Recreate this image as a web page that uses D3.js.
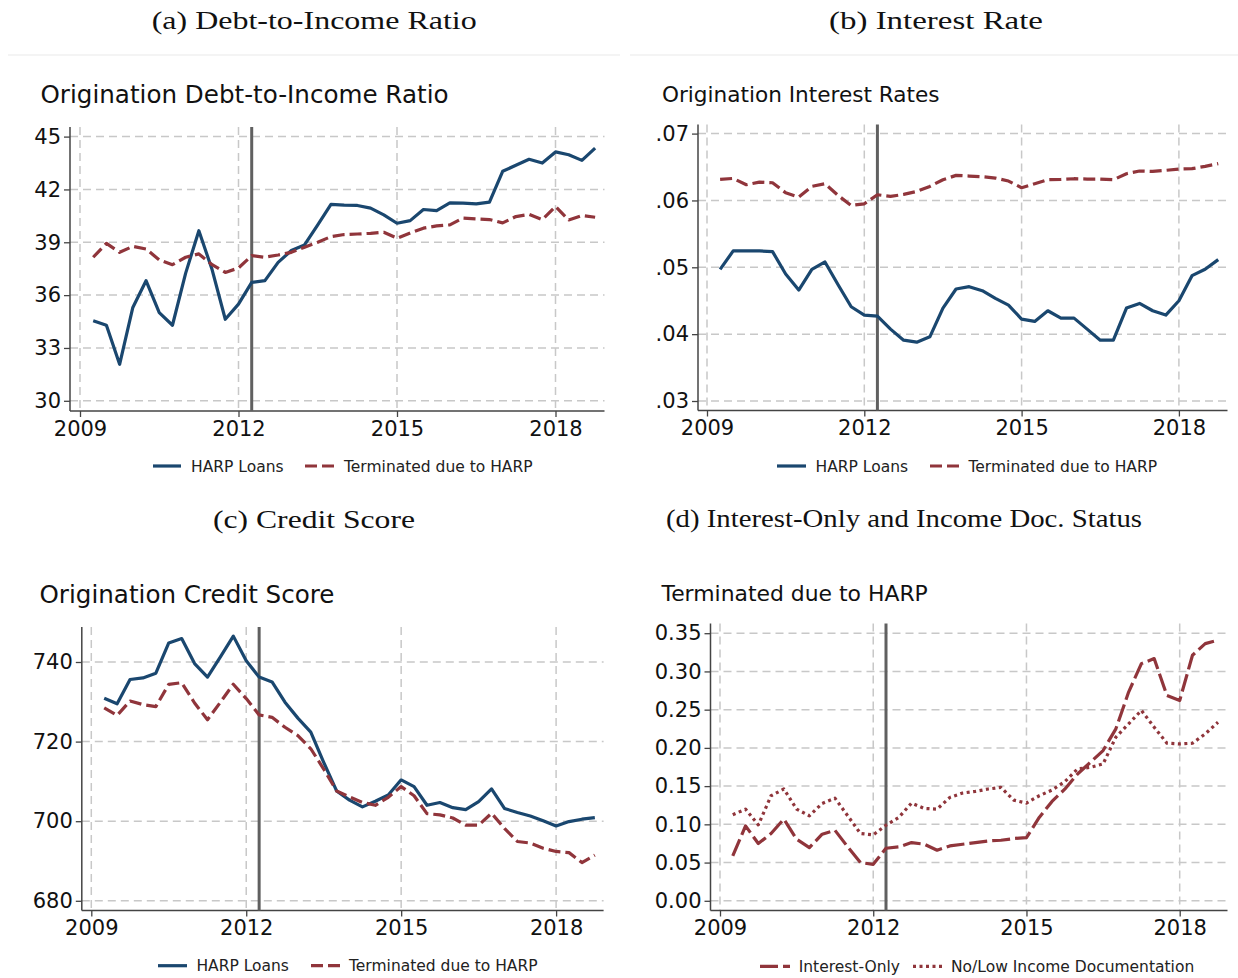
<!DOCTYPE html>
<html><head><meta charset="utf-8">
<script src="https://cdn.jsdelivr.net/npm/d3@7"></script>
<style>body{margin:0;background:#fff} svg{display:block}</style>
</head><body>
<svg id="chart" width="1238" height="978"></svg>
<script>
// ---------- data ----------
const quarters = ["2009q2","2009q3","2009q4",
  "2010q1","2010q2","2010q3","2010q4","2011q1","2011q2","2011q3","2011q4",
  "2012q1","2012q2","2012q3","2012q4","2013q1","2013q2","2013q3","2013q4",
  "2014q1","2014q2","2014q3","2014q4","2015q1","2015q2","2015q3","2015q4",
  "2016q1","2016q2","2016q3","2016q4","2017q1","2017q2","2017q3","2017q4",
  "2018q1","2018q2","2018q3","2018q4"];
const harpLaunch = "2012q2";

const dtiHarp = [34.54,34.29,32.07,35.30,36.82,35.01,34.29,37.25,39.66,37.45,34.63,35.49,36.72,36.82,37.86,38.53,38.85,39.99,41.15,41.11,41.09,40.94,40.56,40.08,40.23,40.86,40.80,41.24,41.22,41.18,41.28,43.03,43.37,43.71,43.50,44.13,43.97,43.65,44.35];
const dtiTerm = [38.15,38.94,38.43,38.77,38.62,38.00,37.73,38.15,38.34,37.73,37.29,37.54,38.24,38.15,38.28,38.43,38.72,39.00,39.32,39.44,39.47,39.51,39.57,39.23,39.53,39.80,39.93,39.99,40.37,40.33,40.29,40.10,40.46,40.58,40.29,41.03,40.27,40.52,40.42];

const rateHarp = [0.0497,0.05245,0.05245,0.05245,0.05235,0.0490,0.0466,0.0497,0.0508,0.0474,0.0441,0.04285,0.0427,0.04075,0.0391,0.0388,0.0396,0.0439,0.04675,0.0471,0.0465,0.04535,0.04435,0.04225,0.0419,0.0435,0.0424,0.0424,0.04075,0.0391,0.0391,0.0439,0.0446,0.0435,0.04285,0.0450,0.04875,0.0497,0.05115];
const rateTerm = [0.06315,0.0633,0.06235,0.06275,0.06265,0.06115,0.0605,0.0621,0.0625,0.06075,0.05925,0.0595,0.06085,0.0606,0.0609,0.06135,0.0621,0.0631,0.06375,0.06365,0.06355,0.06335,0.0629,0.0619,0.0625,0.0631,0.06315,0.06325,0.0632,0.0632,0.0631,0.0640,0.0644,0.06435,0.0645,0.0647,0.06475,0.0651,0.0655];

const creditHarp = [730.9,729.5,735.6,736.0,737.2,744.8,745.9,739.6,736.2,741.3,746.5,740.3,736.2,735.0,729.9,725.9,722.4,714.8,707.6,705.3,703.6,705.0,706.6,710.4,708.7,704.0,704.7,703.4,702.9,704.9,708.1,703.2,702.2,701.3,700.1,698.8,699.9,700.5,700.9];
const creditTerm = [728.5,726.6,730.2,729.3,728.8,734.4,734.8,729.7,725.5,729.9,734.4,730.8,726.7,726.1,723.6,721.5,718.2,713.1,707.6,706.1,704.7,704.0,706.0,708.7,706.4,701.9,701.6,700.8,699.0,699.0,702.0,698.2,694.9,694.5,693.2,692.4,692.1,689.6,691.5];

const ioTerm = [0.0587,0.098,0.0749,0.088,0.1068,0.0805,0.0696,0.0871,0.0923,0.0705,0.0499,0.0477,0.0687,0.0705,0.0762,0.074,0.0661,0.0718,0.074,0.0762,0.0783,0.0792,0.0814,0.0827,0.109,0.130,0.146,0.1658,0.1811,0.1965,0.2249,0.273,0.3102,0.3168,0.2686,0.262,0.3211,0.3364,0.3408];
const lowDocTerm = [0.1125,0.1199,0.0993,0.1374,0.1462,0.1199,0.1112,0.1273,0.1343,0.1112,0.088,0.0862,0.0989,0.109,0.1278,0.1208,0.1199,0.1352,0.1409,0.1431,0.1462,0.1483,0.1317,0.1278,0.1374,0.1448,0.1558,0.1724,0.1746,0.179,0.214,0.2315,0.249,0.2271,0.2061,0.2052,0.2061,0.2183,0.2336];

const xTicks = [2009, 2012, 2015, 2018];
const dtiTicks = [30, 33, 36, 39, 42, 45];
const rateTicks = [0.03, 0.04, 0.05, 0.06, 0.07];
const creditTicks = [680, 700, 720, 740];
const shareTicks = [0.00, 0.05, 0.10, 0.15, 0.20, 0.25, 0.30, 0.35];

const captions = ["(a) Debt-to-Income Ratio", "(b) Interest Rate", "(c) Credit Score", "(d) Interest-Only and Income Doc. Status"];
const titles = ["Origination Debt-to-Income Ratio", "Origination Interest Rates", "Origination Credit Score", "Terminated due to HARP"];
const seriesNames = {harp: "HARP Loans", term: "Terminated due to HARP", io: "Interest-Only", lowdoc: "No/Low Income Documentation"};

// ---------- helpers ----------
const parseQ = s => +s.slice(0, 4) + (+s.slice(5) - 1) / 4;
const dates = quarters.map(parseQ);

const styles = {
  harp:   {color: "#1a476f", width: 3.2, dash: null},
  term:   {color: "#90353b", width: 3.2, dash: "12,5"},
  io:     {color: "#90353b", width: 3.2, dash: "18,5"},
  lowdoc: {color: "#90353b", width: 3.2, dash: "3,3.5"}
};

const fmtRate = d => d3.format(".2f")(d).replace(/^0/, "");
const fmtShare = d3.format(".2f");
const fmtInt = d3.format("d");

const panels = [
  {caption: captions[0], cap: {x: 151.7, y: 29.3, w: 325},
   title: titles[0], tt: {x: 40.5, y: 103, size: 24.6},
   xr: [80, 555.5], f: {l: 70, r: 604.5, t: 127, b: 411},
   yd: [30, 45], yr: [400.8, 136.6], ticks: dtiTicks, fmt: fmtInt,
   series: [{v: dtiHarp, s: "harp"}, {v: dtiTerm, s: "term"}],
   leg: {y: 466, items: [{x1: 153, x2: 181, tx: 191, s: "harp"}, {x1: 305, x2: 335, tx: 344, s: "term"}]}},
  {caption: captions[1], cap: {x: 829, y: 29.3, w: 214},
   title: titles[1], tt: {x: 662, y: 102, size: 21.6},
   xr: [707, 1178.9], f: {l: 698, r: 1227.5, t: 124.5, b: 410.5},
   yd: [0.03, 0.07], yr: [401, 133.6], ticks: rateTicks, fmt: fmtRate,
   series: [{v: rateHarp, s: "harp"}, {v: rateTerm, s: "term"}],
   leg: {y: 466, items: [{x1: 777, x2: 806, tx: 815.5, s: "harp"}, {x1: 930, x2: 960, tx: 968.5, s: "term"}]}},
  {caption: captions[2], cap: {x: 213, y: 528, w: 202},
   title: titles[2], tt: {x: 39.5, y: 603, size: 24.6},
   xr: [91.3, 556.1], f: {l: 81.8, r: 603.6, t: 627, b: 910.5},
   yd: [680, 740], yr: [900.8, 662], ticks: creditTicks, fmt: fmtInt,
   series: [{v: creditHarp, s: "harp"}, {v: creditTerm, s: "term"}],
   leg: {y: 965.7, items: [{x1: 158, x2: 187, tx: 196.4, s: "harp"}, {x1: 311, x2: 340, tx: 349, s: "term"}]}},
  {caption: captions[3], cap: {x: 666, y: 527.3, w: 476},
   title: titles[3], tt: {x: 661.5, y: 601, size: 21.9},
   xr: [720, 1179.7], f: {l: 710.5, r: 1227.5, t: 623.5, b: 910.5},
   yd: [0, 0.35], yr: [900.8, 633.2], ticks: shareTicks, fmt: fmtShare,
   series: [{v: ioTerm, s: "io"}, {v: lowDocTerm, s: "lowdoc"}],
   leg: {y: 966.4, items: [{x1: 760, x2: 790, tx: 798.7, s: "io"}, {x1: 913, x2: 943, tx: 951, s: "lowdoc"}]}}
];

const svg = d3.select("#chart");
svg.append("rect").attr("width", 1238).attr("height", 978).attr("fill", "#fff");

// faint rules under the top captions
svg.append("line").attr("x1", 8).attr("x2", 620).attr("y1", 55).attr("y2", 55).attr("stroke", "#f0f0f0").attr("stroke-width", 1.5);
svg.append("line").attr("x1", 630).attr("x2", 1238).attr("y1", 55).attr("y2", 55).attr("stroke", "#f0f0f0").attr("stroke-width", 1.5);

const sans = "'DejaVu Sans', sans-serif";
const serif = "'Liberation Serif', 'Times New Roman', serif";

panels.forEach(p => {
  const g = svg.append("g");
  // caption
  g.append("text").attr("x", p.cap.x).attr("y", p.cap.y)
    .attr("font-family", serif).attr("font-size", 26)
    .attr("textLength", p.cap.w).attr("lengthAdjust", "spacingAndGlyphs")
    .attr("fill", "#111").text(p.caption);
  // title
  g.append("text").attr("x", p.tt.x).attr("y", p.tt.y)
    .attr("font-family", sans).attr("font-size", p.tt.size).attr("fill", "#111").text(p.title);

  const x = d3.scaleLinear().domain([xTicks[0], xTicks[xTicks.length - 1]]).range(p.xr);
  const y = d3.scaleLinear().domain(p.yd).range(p.yr);
  const f = p.f;

  // grid
  const grid = g.append("g").attr("stroke", "#c8c8c8").attr("stroke-width", 1.5).attr("stroke-dasharray", "8,5");
  p.ticks.forEach(t => grid.append("line").attr("x1", f.l).attr("x2", f.r).attr("y1", y(t)).attr("y2", y(t)));
  xTicks.forEach(t => grid.append("line").attr("x1", x(t)).attr("x2", x(t)).attr("y1", f.t).attr("y2", f.b));

  // axes
  const yAxis = d3.axisLeft(y).tickValues(p.ticks).tickFormat(p.fmt).tickSize(6).tickPadding(3);
  const ya = g.append("g").attr("transform", `translate(${f.l},0)`).call(yAxis);
  ya.select(".domain").remove();
  const xAxis = d3.axisBottom(x).tickValues(xTicks).tickFormat(fmtInt).tickSize(6).tickPadding(4);
  const xa = g.append("g").attr("transform", `translate(0,${f.b})`).call(xAxis);
  xa.select(".domain").remove();
  [ya, xa].forEach(a => {
    a.selectAll("text").attr("font-family", sans).attr("font-size", 21).attr("fill", "#111");
    a.selectAll(".tick line").attr("stroke", "#444").attr("stroke-width", 1.3);
  });
  g.append("line").attr("x1", f.l).attr("x2", f.l).attr("y1", f.t).attr("y2", f.b).attr("stroke", "#444").attr("stroke-width", 1.5);
  g.append("line").attr("x1", f.l).attr("x2", f.r).attr("y1", f.b).attr("y2", f.b).attr("stroke", "#444").attr("stroke-width", 1.5);

  // HARP launch line
  const xl = x(parseQ(harpLaunch));
  g.append("line").attr("x1", xl).attr("x2", xl).attr("y1", f.t).attr("y2", f.b)
    .attr("stroke", "#606060").attr("stroke-width", 3);

  // series
  const line = d3.line().x((d, i) => x(dates[i])).y(d => y(d));
  p.series.forEach(s => {
    const st = styles[s.s];
    g.append("path").datum(s.v).attr("d", line).attr("fill", "none")
      .attr("stroke", st.color).attr("stroke-width", st.width)
      .attr("stroke-linejoin", "round")
      .attr("stroke-dasharray", st.dash);
  });

  // legend
  p.leg.items.forEach(it => {
    const st = styles[it.s];
    g.append("line").attr("x1", it.x1).attr("x2", it.x2).attr("y1", p.leg.y).attr("y2", p.leg.y)
      .attr("stroke", st.color).attr("stroke-width", st.width).attr("stroke-dasharray", st.dash);
    g.append("text").attr("x", it.tx).attr("y", p.leg.y + 5.5)
      .attr("font-family", sans).attr("font-size", 15.5).attr("fill", "#222").text(seriesNames[it.s]);
  });
});
</script>
</body></html>
